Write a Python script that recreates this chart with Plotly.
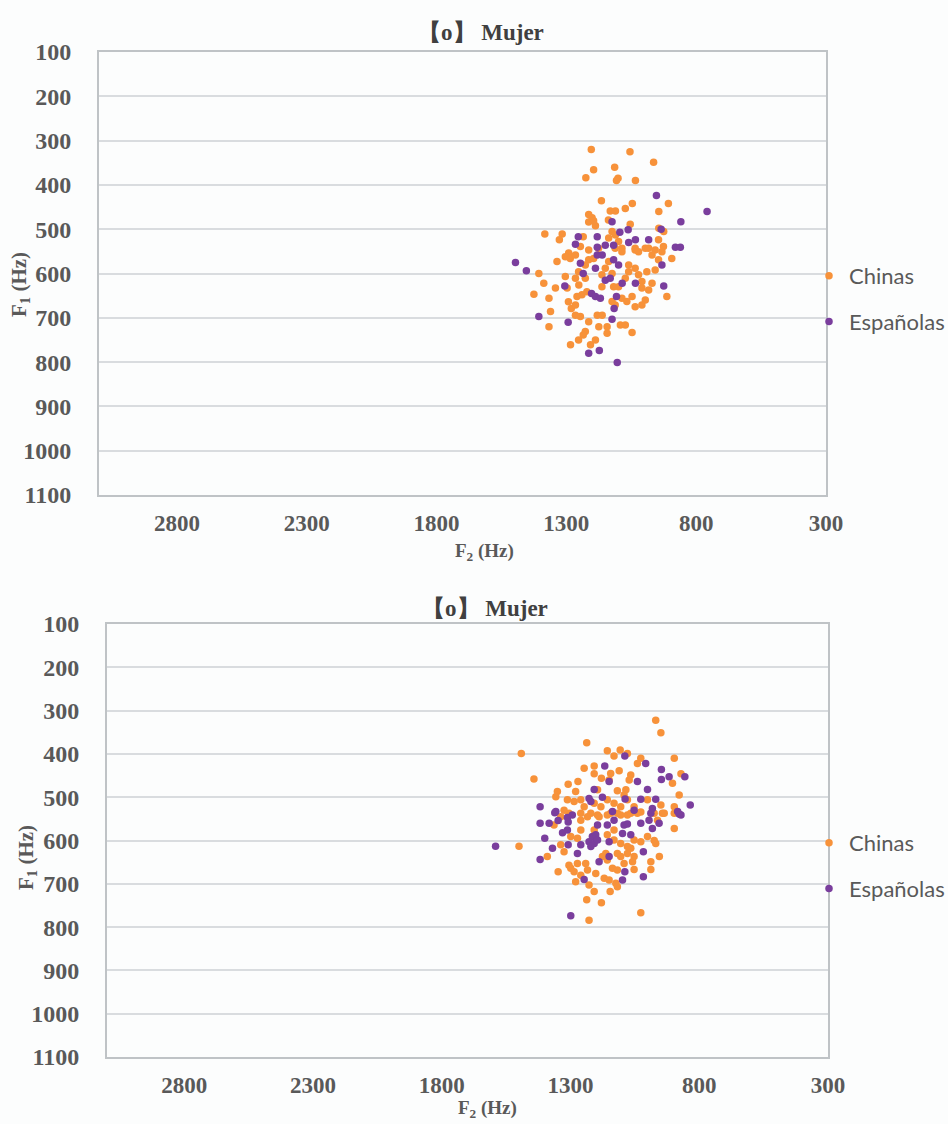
import plotly.graph_objects as go

# ---------------- data (Hz) ----------------
# Top chart
top_chinas_f2 = [1204,1055,964,1195,1114,1225,1101,1107,1034,1165,1046,907,1131,1111,1073,944,
                 1214,1201,1214,1188,1195,1138,1054,944,925,1383,1316,1327,1124,1111,1235,
                 1246,1291,1214,1176,1086,1035,996,945,926,1099,1137,
                 1336,1304,1285,1265,1406,1387,1425,1367,1342,1304,1297,1265,1253,1227,1240,1259,1221,
                 1292,1281,1265,1361,1367,1246,1214,1227,1235,1253,1284,1207,1188,1181,1162,1175,1143,
                 1143,1092,1073,1047,1124,1112,1086,1067,1047,1035,1009,996,1009,983,970,1009,1022,1060,
                 1035,990,958,945,970,958,932,894,913,1099,1118,1073,1060,1124,1150,1137,1086,1112,1035,
                 1022,983,1227,1214,1195,1163,1163,1252,1265]
top_chinas_f1 = [320,325,349,366,360,384,385,390,390,436,442,442,459,459,453,460,
                 467,474,484,492,481,479,489,498,505,511,511,524,505,513,517,
                 539,554,547,543,543,547,543,524,539,528,520,
                 573,562,566,558,600,622,647,656,633,607,633,611,596,611,648,652,641,
                 664,679,671,686,720,697,709,731,739,750,761,761,750,694,694,720,720,
                 735,716,716,733,663,671,656,663,652,675,671,660,633,637,622,618,603,596,
                 588,596,592,569,558,547,551,566,652,630,630,611,581,600,588,573,551,543,543,
                 551,543,581,569,566,603,630,626,694]
top_espanolas_f2 = [953,758,859,1124,935,1094,1062,1181,1254,1265,983,1034,1060,1150,1181,1118,880,861,
                    1496,1454,1246,1235,1181,1188,1162,1118,1099,1150,1131,932,1085,1034,925,1306,
                    1203,1188,1169,1107,1116,1406,1293,1124,1214,1173,1104]
top_espanolas_f1 = [424,460,483,483,500,507,501,517,517,534,524,524,530,536,541,536,541,541,
                    575,594,577,600,558,588,558,569,581,615,611,581,622,622,628,628,
                    645,652,656,652,679,697,710,703,780,774,801]

# Bottom chart
bot_chinas_f2 = [969,949,1237,1491,1157,1107,1131,1079,897,1027,1040,1442,1247,1208,1208,1180,1144,1111,
                 1066,1072,1150,1271,1309,871,904,1351,1357,1280,1118,1085,1092,878,1195,
                 1312,1286,1260,1247,1208,1182,1157,1131,1105,1079,1053,1001,949,1306,1325,1260,1221,
                 1195,1157,1118,1079,1040,975,943,897,
                 1500,897,975,955,988,988,1053,1348,1390,1306,1299,1286,1273,1241,1260,1280,1228,1208,
                 1237,1180,1146,1169,1150,1124,1118,1137,1118,1092,1105,1079,1066,1118,1163,1176,1157,
                 1234,1202,1027,1228,1364,1338,1260,1234,1189,1144,1105,1066,1027,936,962,897,
                 1299,1273,1157,1131,1105,1053,1027,1001,969,1260,1208,1131,1325,1338,1079,1053,1059]
bot_chinas_f1 = [322,351,374,399,393,391,405,399,410,410,422,458,433,428,446,456,445,439,
                 449,460,460,464,470,446,468,487,499,487,485,483,495,495,483,
                 506,510,506,522,514,522,506,514,522,506,522,506,518,537,530,537,537,
                 541,541,537,541,537,537,537,522,
                 613,572,600,637,649,667,667,672,637,657,664,672,653,653,680,695,703,718,
                 737,744,718,687,691,699,707,664,668,653,637,630,618,630,630,637,645,
                 668,676,767,784,564,545,553,545,545,537,541,537,534,537,553,537,
                 591,595,587,599,607,599,603,591,607,576,576,576,626,610,614,637,649]
bot_espanolas_f2 = [1089,1008,1167,947,947,1150,1040,917,856,1208,1001,1228,1221,1176,1088,1027,969,1418,
                    1053,982,988,884,871,835,1361,1312,1137,
                    1418,1383,1348,1309,1293,1357,878,1195,1157,1131,1092,1079,1098,1066,1027,995,956,
                    982,1331,1312,1400,1591,1215,1202,1228,1208,1221,1195,1309,1260,1273,1150,1370,
                    1418,1189,1150,1017,1089,1017,1098,1247,1299]
bot_espanolas_f1 = [405,422,428,436,459,464,464,453,453,482,482,503,510,500,504,505,505,522,
                    530,526,537,533,541,518,536,547,533,
                    560,560,554,557,541,533,539,564,564,553,564,562,584,587,560,553,560,
                    572,582,576,595,613,591,587,603,607,614,599,610,610,630,603,618,
                    644,649,637,626,672,684,691,690,774]

series_names = ["Chinas", "Españolas"]
title_text = "【o】 Mujer"
x_ticks = [2800, 2300, 1800, 1300, 800, 300]

# ---------------- styling ----------------
W, H = 948, 1124
ORANGE = "#F7923A"
PURPLE = "#7A3E9D"
GRID = "#D9DCDF"
AXIS = "#BFC3C6"
TXT = "#595959"
SERIF = "Liberation Serif, Times New Roman, serif"
SANS = "Lato, Open Sans, sans-serif"

def px_x(p):
    return p / W

def px_y(p):
    return 1 - p / H

fig = go.Figure()

panels = [
    dict(xa="x", ya="y", legend="legend",
         data=[(top_chinas_f2, top_chinas_f1), (top_espanolas_f2, top_espanolas_f1)]),
    dict(xa="x2", ya="y2", legend="legend2",
         data=[(bot_chinas_f2, bot_chinas_f1), (bot_espanolas_f2, bot_espanolas_f1)]),
]
colors = [ORANGE, PURPLE]
for pi, pnl in enumerate(panels):
    for si, (xs, ys) in enumerate(pnl["data"]):
        fig.add_trace(go.Scatter(
            x=xs, y=ys, mode="markers", name=series_names[si],
            xaxis=pnl["xa"], yaxis=pnl["ya"], legend=pnl["legend"],
            legendgroup=f"g{pi}{si}",
            marker=dict(symbol="circle", size=7.5, color=colors[si], line=dict(width=0)),
            showlegend=True,
        ))

# plot areas in pixels: (left, right, top, bottom)
areas = [(99, 826, 52, 495), (107, 828, 624, 1057)]

axis_common_x = dict(
    range=[3100, 300], tickmode="array", tickvals=x_ticks,
    ticktext=[str(v) for v in x_ticks],
    showgrid=False, zeroline=False, showline=True, linecolor=AXIS, linewidth=2,
    mirror=True, ticks="", ticklabelstandoff=6,
    tickfont=dict(family=SERIF, size=23, color=TXT, weight="bold"),
)
axis_common_y = dict(
    range=[1100, 100], tickmode="linear", tick0=100, dtick=100,
    showgrid=True, gridcolor=GRID, gridwidth=2, zeroline=False,
    showline=True, linecolor=AXIS, linewidth=2, mirror=True, ticks="",
    ticklabelstandoff=21,
    tickfont=dict(family=SERIF, size=24, color=TXT, weight="bold"),
)

l, r, t, b = areas[0]
fig.update_layout(
    xaxis=dict(domain=[px_x(l), px_x(r)], anchor="y", **axis_common_x),
    yaxis=dict(domain=[px_y(b), px_y(t)], anchor="x", **axis_common_y),
)
l, r, t, b = areas[1]
fig.update_layout(
    xaxis2=dict(domain=[px_x(l), px_x(r)], anchor="y2", **axis_common_x),
    yaxis2=dict(domain=[px_y(b), px_y(t)], anchor="x2", **axis_common_y),
)

legend_style = dict(
    xanchor="left", yanchor="middle", bgcolor="rgba(0,0,0,0)",
    font=dict(family=SANS, size=22, color=TXT), tracegroupgap=14,
    itemsizing="trace",
)
fig.update_layout(
    legend=dict(x=px_x(809), y=px_y(299), **legend_style),
    legend2=dict(x=px_x(809), y=px_y(866), **legend_style),
)

annotations = []
title_pos = [(481, 32), (485, 609)]
ylab_pos = [(20, 285), (27, 858)]
xlab_pos = [(484, 552), (487, 1109)]
for i in range(2):
    annotations.append(dict(
        text=f"<b>{title_text}</b>", x=px_x(title_pos[i][0]), y=px_y(title_pos[i][1]),
        xref="paper", yref="paper", showarrow=False, xanchor="center", yanchor="middle",
        font=dict(family=SERIF, size=23, color="#404040")))
    annotations.append(dict(
        text="<b>F<sub>1</sub> (Hz)</b>", x=px_x(ylab_pos[i][0]), y=px_y(ylab_pos[i][1]),
        xref="paper", yref="paper", showarrow=False, textangle=-90,
        xanchor="center", yanchor="middle",
        font=dict(family=SERIF, size=21, color=TXT)))
    annotations.append(dict(
        text="<b>F<sub>2</sub> (Hz)</b>", x=px_x(xlab_pos[i][0]), y=px_y(xlab_pos[i][1]),
        xref="paper", yref="paper", showarrow=False, xanchor="center", yanchor="middle",
        font=dict(family=SERIF, size=19, color=TXT)))

fig.update_layout(
    width=W, height=H, autosize=False,
    margin=dict(l=0, r=0, t=0, b=0, autoexpand=False),
    paper_bgcolor="#FCFDFD", plot_bgcolor="#FCFDFD",
    annotations=annotations,
    showlegend=True,
)

# pin the figure to the top-left corner of the page (no body margin)
pin_js = (
    "document.documentElement.style.margin='0';"
    "document.body.style.margin='0';"
    "var d=document.getElementById('{plot_id}');"
    "d.style.position='fixed';d.style.left='0px';d.style.top='0px';"
)

fig.write_html("out.html", include_plotlyjs=True, full_html=True,
               config={"displayModeBar": False}, post_script=pin_js)
